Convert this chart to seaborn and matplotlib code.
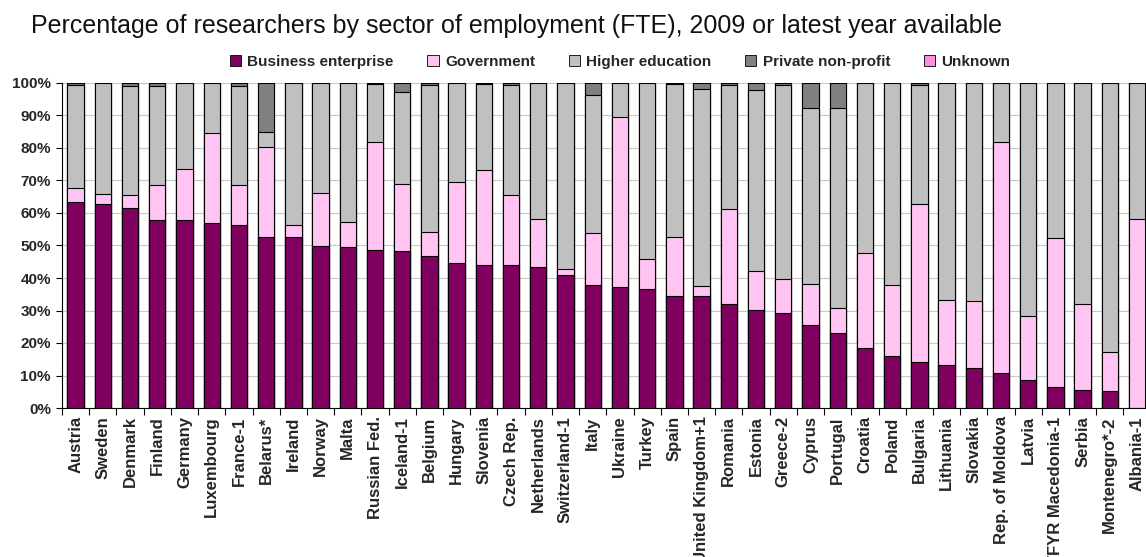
import numpy as np
import pandas as pd
import seaborn as sns
import matplotlib.pyplot as plt
from matplotlib.patches import Patch
from matplotlib.ticker import FixedLocator, PercentFormatter

# Values (% of researchers, FTE)
countries = [
    "Austria", "Sweden", "Denmark", "Finland", "Germany", "Luxembourg", "France-1",
    "Belarus*", "Ireland", "Norway", "Malta", "Russian Fed.", "Iceland-1", "Belgium",
    "Hungary", "Slovenia", "Czech Rep.", "Netherlands", "Switzerland-1", "Italy",
    "Ukraine", "Turkey", "Spain", "United Kingdom+1", "Romania", "Estonia", "Greece-2",
    "Cyprus", "Portugal", "Croatia", "Poland", "Bulgaria", "Lithuania", "Slovakia",
    "Rep. of Moldova", "Latvia", "TFYR Macedonia-1", "Serbia", "Montenegro*-2", "Albania-1",
]
business = [63.5, 62.8, 61.5, 57.8, 57.8, 57.0, 56.3, 52.5, 52.5, 49.8, 49.4, 48.7, 48.4, 46.8,
            44.7, 44.0, 44.0, 43.3, 40.9, 37.8, 37.1, 36.5, 34.4, 34.4, 32.0, 30.1, 29.1,
            25.4, 23.2, 18.5, 16.1, 14.1, 13.1, 12.3, 10.7, 8.5, 6.5, 5.5, 5.1, 0.0]
government = [4.1, 3.1, 3.9, 10.9, 15.7, 27.5, 12.4, 27.9, 3.7, 16.5, 7.9, 33.1, 20.6, 7.5,
              24.7, 29.2, 21.6, 14.8, 2.0, 16.1, 52.3, 9.4, 18.1, 3.2, 29.3, 12.1, 10.7,
              12.9, 7.7, 29.3, 21.6, 48.8, 20.2, 20.6, 71.0, 19.7, 45.7, 26.4, 12.0, 58.0]
higher_edu = [31.9, 34.1, 33.8, 30.5, 26.5, 15.5, 30.3, 4.5, 43.8, 33.7, 42.7, 17.8, 28.2, 45.0,
              30.6, 26.4, 33.7, 41.9, 57.1, 42.3, 10.6, 54.1, 47.2, 60.6, 38.0, 55.6, 59.5,
              54.1, 61.5, 52.2, 62.3, 36.4, 66.7, 67.1, 18.3, 71.8, 47.8, 68.1, 82.9, 42.0]
private_np = [0.5, 0.0, 0.8, 0.8, 0.0, 0.0, 1.0, 15.1, 0.0, 0.0, 0.0, 0.4, 2.8, 0.7,
              0.0, 0.4, 0.7, 0.0, 0.0, 3.8, 0.0, 0.0, 0.3, 1.8, 0.7, 2.2, 0.7,
              7.6, 7.6, 0.0, 0.0, 0.7, 0.0, 0.0, 0.0, 0.0, 0.0, 0.0, 0.0, 0.0]
unknown = [0.0] * len(countries)

sectors = ["Business enterprise", "Government", "Higher education", "Private non-profit", "Unknown"]
colors = ["#800060", "#FFC4F2", "#C0C0C0", "#808080", "#FF8CDC"]

df = pd.DataFrame({
    "country": countries,
    "Business enterprise": business,
    "Government": government,
    "Higher education": higher_edu,
    "Private non-profit": private_np,
    "Unknown": unknown,
})
# cumulative tops for stacking
cum = df[sectors].cumsum(axis=1)
cum["country"] = df["country"]

sns.set_theme(style="white")
plt.rcParams["font.family"] = ["Liberation Sans", "DejaVu Sans"]

fig = plt.figure(figsize=(11.46, 5.57), dpi=100)
ax = fig.add_axes([62 / 1146, 1 - 408 / 557, (1150.7 - 62) / 1146, (408 - 83) / 557])

# draw from the top layer down so each lower segment covers the one above
for sector, color in reversed(list(zip(sectors, colors))):
    sns.barplot(data=cum, x="country", y=sector, color=color, width=0.6,
                edgecolor="black", linewidth=0.8, saturation=1, ax=ax, zorder=3)

ax.set_ylim(0, 100)
ax.set_xlim(-0.5, len(countries) - 0.5)
ax.set_yticks(np.arange(0, 101, 10))
ax.yaxis.set_major_formatter(PercentFormatter(decimals=0))
ax.yaxis.grid(True, color="#C8C8C8", linewidth=0.8, zorder=0)
ax.set_axisbelow(True)
ax.set_xlabel("")
ax.set_ylabel("")

ax.set_xticks(range(len(countries)))
ax.set_xticklabels(countries, rotation=90, fontsize=12, fontweight="bold")
ax.xaxis.set_minor_locator(FixedLocator(np.arange(-0.5, len(countries), 1)))
ax.tick_params(axis="x", which="major", length=0, pad=6)
ax.tick_params(axis="x", which="minor", length=5, width=0.8, color="black", bottom=True)
ax.tick_params(axis="y", length=4, width=0.8, color="black", left=True, pad=4)
for lab in ax.get_yticklabels():
    lab.set_fontsize(11)
    lab.set_fontweight("bold")

for side in ["top", "right"]:
    ax.spines[side].set_visible(False)
for side in ["left", "bottom"]:
    ax.spines[side].set_color("black")
    ax.spines[side].set_linewidth(0.8)

handles = [Patch(facecolor=c, edgecolor="black", linewidth=0.6, label=s)
           for s, c in zip(sectors, colors)]
fig.legend(handles=handles, loc="center", bbox_to_anchor=(620 / 1146, 1 - 62 / 557),
           ncol=5, frameon=False, handlelength=0.75, handleheight=0.75,
           handletextpad=0.4, columnspacing=2.2,
           prop={"weight": "bold", "size": 11})

fig.text(31 / 1146, 1 - 26 / 557,
         "Percentage of researchers by sector of employment (FTE), 2009 or latest year available",
         ha="left", va="center", fontsize=18, color="#111111")

fig.savefig("out.png", dpi=100)
